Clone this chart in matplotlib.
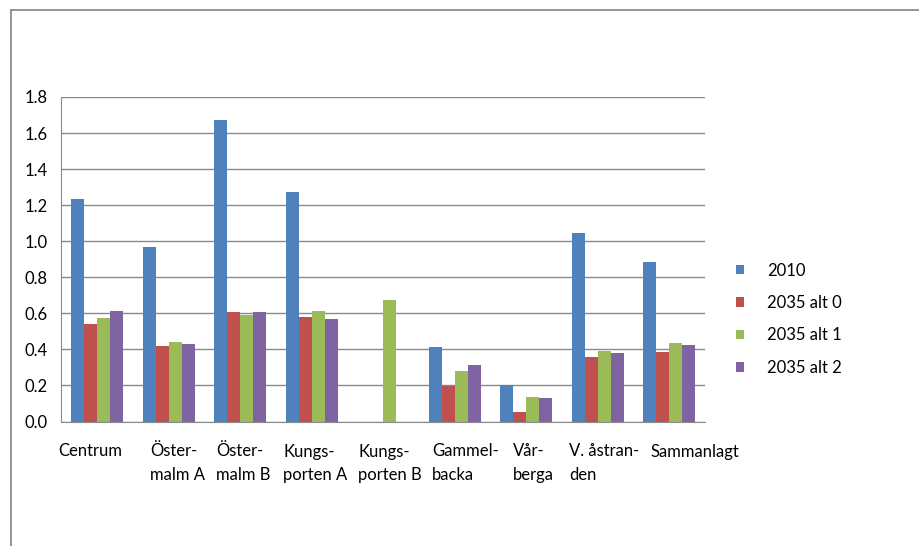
import numpy as np
import matplotlib
matplotlib.use("Agg")
import matplotlib.pyplot as plt
from matplotlib.lines import Line2D
from matplotlib.patches import Patch
from matplotlib.transforms import blended_transform_factory

plt.rcParams['font.family'] = ['Lato', 'DejaVu Sans']

# stations and series
categories = ['Centrum', 'Öster-\nmalm A', 'Öster-\nmalm B', 'Kungs-\nporten A',
              'Kungs-\nporten B', 'Gammel-\nbacka', 'Vår-\nberga', 'V. åstran-\nden',
              'Sammanlagt']
series_names = ['2010', '2035 alt 0', '2035 alt 1', '2035 alt 2']
v2010 = [1.232, 0.968, 1.670, 1.274, 0.0, 0.412, 0.201, 1.047, 0.883]
v2035_0 = [0.540, 0.421, 0.606, 0.582, 0.0, 0.196, 0.054, 0.360, 0.388]
v2035_1 = [0.573, 0.440, 0.591, 0.612, 0.674, 0.281, 0.135, 0.393, 0.434]
v2035_2 = [0.612, 0.430, 0.606, 0.567, 0.0, 0.312, 0.130, 0.379, 0.427]
yticks = [0.0, 0.2, 0.4, 0.6, 0.8, 1.0, 1.2, 1.4, 1.6, 1.8]

# left edge of each wrapped category label, relative to the slot start
label_shift = [-0.05, 0.238, 0.161, 0.098, 0.147, 0.18, 0.31, 0.10, 0.24]

colors = ['#4F81BD', '#C0504D', '#9BBB59', '#8064A2']
grid_col = '#8a8a8a'
fs = 12

W, H = 919, 546
fig = plt.figure(figsize=(W / 100, H / 100), dpi=100)
ax = fig.add_axes([61.5 / W, (H - 421.5) / H, (705 - 61.5) / W, (421.5 - 97) / H])

x = np.arange(len(categories))
bw = 0.182
for k, vals in enumerate([v2010, v2035_0, v2035_1, v2035_2]):
    ax.bar(x + (k - 1.5) * bw, vals, width=bw, color=colors[k],
           edgecolor='none', zorder=3)

ax.set_xlim(-0.5, len(categories) - 0.5)
ax.set_ylim(0, 1.8)
ax.set_yticks(yticks)
ax.set_yticklabels([f'{v:.1f}' for v in yticks], fontsize=fs)
ax.set_xticks([])
ax.tick_params(axis='both', length=0)
ax.tick_params(axis='y', pad=10)

# category labels, left aligned inside their slots
trans = blended_transform_factory(ax.transData, ax.transAxes)
for i, lab in enumerate(categories):
    ax.text(i - 0.5 + label_shift[i], -22 / 324.5, lab, transform=trans,
            ha='left', va='top', fontsize=fs, linespacing=1.6)

ax.grid(axis='y', color=grid_col, linewidth=1.0, zorder=0)
for s in ['top', 'right']:
    ax.spines[s].set_visible(False)
ax.spines['left'].set_color(grid_col)
ax.spines['bottom'].set_color(grid_col)
ax.spines['left'].set_zorder(4)
ax.spines['bottom'].set_zorder(4)

handles = [Patch(facecolor=c, edgecolor='none') for c in colors]
fig.legend(handles, series_names, loc='upper left',
           bbox_to_anchor=(729 / W, 1 - 256 / H), frameon=False, fontsize=fs,
           handlelength=0.5, handleheight=0.5, handletextpad=1.4,
           labelspacing=0.98, borderaxespad=0)

# outer frame of the chart area
fig.add_artist(Line2D([10.5 / W, 10.5 / W], [0, 1 - 9.5 / H], color='#8c8c8c',
                      linewidth=1.3, transform=fig.transFigure))
fig.add_artist(Line2D([10.5 / W, 1], [1 - 9.5 / H, 1 - 9.5 / H], color='#8c8c8c',
                      linewidth=1.3, transform=fig.transFigure))

fig.savefig('out.png', dpi=100)
